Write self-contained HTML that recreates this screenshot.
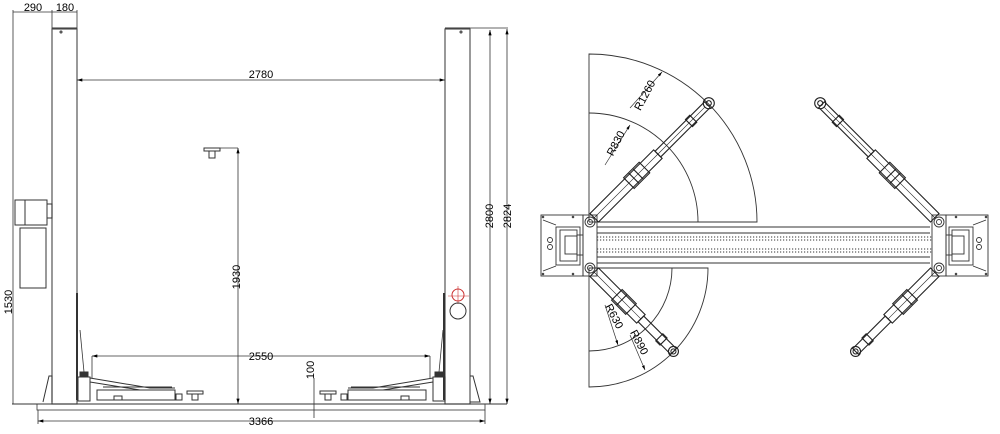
<!DOCTYPE html>
<html><head><meta charset="utf-8"><style>
html,body{margin:0;padding:0;background:#fff;}
svg{display:block;}
text{font-family:"Liberation Sans",sans-serif;font-size:11px;fill:#000;}
</style></head><body>
<svg width="1000" height="434" viewBox="0 0 1000 434" xmlns="http://www.w3.org/2000/svg">
<defs>
<marker id="ar" viewBox="0 0 10 6" refX="10" refY="3" markerWidth="7" markerHeight="4" orient="auto-start-reverse"><path d="M0,0 L10,3 L0,6z" fill="#000"/></marker>
</defs>
<g fill="none" stroke="#333" stroke-width="1">
<line x1="13" y1="12" x2="77" y2="12" stroke-width="0.8"/>
<line x1="13" y1="10" x2="13" y2="404" stroke-width="0.8"/>
<line x1="52" y1="10" x2="52" y2="30" stroke-width="0.8"/>
<line x1="77" y1="10" x2="77" y2="30" stroke-width="0.8"/>
<rect x="52" y="29" width="25" height="375" stroke-width="1.2" stroke="#555"/>
<line x1="52" y1="28" x2="77" y2="28"/>
<circle cx="61" cy="32" r="1"/>
<line x1="77" y1="293" x2="77" y2="400" stroke-width="2"/>
<path d="M43,402 L49,376 L52,376 L52,402"/>
<rect x="15" y="200" width="32" height="25"/>
<line x1="25" y1="200" x2="25" y2="225"/>
<rect x="47" y="204" width="5" height="14"/>
<rect x="20" y="228" width="26" height="60"/>
<rect x="445" y="29" width="25" height="375" stroke-width="1.2" stroke="#555"/>
<line x1="445" y1="28" x2="470" y2="28"/>
<circle cx="461" cy="32" r="1"/>
<line x1="444" y1="293" x2="444" y2="400" stroke-width="2"/>
<path d="M470,376 L473,376 L480,402 L470,402"/>
<circle cx="458" cy="295" r="6" stroke="#c33"/>
<line x1="448" y1="296" x2="469" y2="296" stroke="#c33" stroke-width="0.6"/>
<line x1="458" y1="286" x2="458" y2="304" stroke="#c33" stroke-width="0.6"/>
<circle cx="458" cy="311" r="8"/>
<line x1="12" y1="404" x2="507" y2="404"/>
<rect x="37" y="404" width="448" height="6" stroke-width="0.8"/>
<line x1="77" y1="80" x2="445" y2="80" stroke-width="0.8" marker-start="url(#ar)" marker-end="url(#ar)"/>
<line x1="470" y1="28" x2="508" y2="28" stroke-width="0.8"/>
<line x1="490" y1="30" x2="490" y2="404" stroke-width="0.8" marker-start="url(#ar)" marker-end="url(#ar)"/>
<line x1="507" y1="29" x2="507" y2="404" stroke-width="0.8" marker-start="url(#ar)" marker-end="url(#ar)"/>
<line x1="220" y1="148" x2="238" y2="148" stroke-width="0.8"/>
<line x1="238" y1="148" x2="238" y2="404" stroke-width="0.8" marker-start="url(#ar)" marker-end="url(#ar)"/>
<rect x="204" y="148" width="16" height="3"/>
<rect x="209" y="151" width="6" height="7"/>
<line x1="92" y1="356" x2="430" y2="356" stroke-width="0.8" marker-start="url(#ar)" marker-end="url(#ar)"/>
<line x1="92" y1="356" x2="92" y2="378" stroke-width="0.8"/>
<line x1="430" y1="356" x2="430" y2="378" stroke-width="0.8"/>
<line x1="38" y1="410" x2="38" y2="424" stroke-width="0.8"/>
<line x1="485" y1="410" x2="485" y2="424" stroke-width="0.8"/>
<line x1="38" y1="421" x2="485" y2="421" stroke-width="0.8" marker-start="url(#ar)" marker-end="url(#ar)"/>
<line x1="314" y1="378" x2="314" y2="418" stroke-width="0.8"/>
<g id="la">
<line x1="80" y1="330" x2="84" y2="372" stroke-width="0.8"/>
<rect x="78" y="377" width="12" height="24"/>
<rect x="80" y="372" width="8" height="5" fill="#333"/>
<path d="M90,378 L150,388 L175,388 M90,382 L140,390"/>
<rect x="97" y="390" width="78" height="10"/>
<line x1="103" y1="387" x2="172" y2="387"/>
<rect x="114" y="396" width="8" height="4"/>
<rect x="176" y="394" width="6" height="6"/>
<rect x="187" y="391" width="16" height="3"/>
<rect x="192" y="394" width="6" height="6"/>
</g>
<use href="#la" transform="translate(523,0) scale(-1,1)"/>
</g>
<g>
<text x="261" y="78" text-anchor="middle">2780</text>
<text x="33" y="11" text-anchor="middle">290</text>
<text x="65" y="11" text-anchor="middle">180</text>
<text x="261" y="360" text-anchor="middle">2550</text>
<text x="261" y="425" text-anchor="middle">3366</text>
<text transform="translate(12,302) rotate(-90)" text-anchor="middle">1530</text>
<text transform="translate(240,277) rotate(-90)" text-anchor="middle">1930</text>
<text transform="translate(314,370) rotate(-90)" text-anchor="middle">100</text>
<text transform="translate(493,216) rotate(-90)" text-anchor="middle">2800</text>
<text transform="translate(511,216) rotate(-90)" text-anchor="middle">2824</text>
</g>

<g fill="none" stroke="#333" stroke-width="0.9">
<path d="M589,222 L589,54 A168,168 0 0 1 757,222 L589,222"/>
<path d="M589,113 A109,109 0 0 1 698,222"/>
<path d="M589,268 L708,268 A119,119 0 0 1 589,387 Z"/>
<path d="M672,268 A83,83 0 0 1 589,351"/>
<g id="bp">
<rect x="541" y="215" width="42" height="61"/>
<rect x="556" y="227" width="24" height="38"/>
<rect x="560" y="230" width="17" height="31"/>
<rect x="565" y="236" width="12" height="18"/>
<rect x="577" y="235" width="6" height="20"/>
<circle cx="550" cy="240" r="2.5"/><circle cx="550" cy="247" r="2.5"/>
<line x1="543" y1="220" x2="556" y2="225"/><line x1="543" y1="271" x2="556" y2="266"/>
<circle cx="543" cy="217" r="0.8"/><circle cx="573" cy="217" r="0.8"/>
<circle cx="543" cy="274" r="0.8"/><circle cx="573" cy="274" r="0.8"/>
<rect x="583" y="215" width="14" height="61"/>
<circle cx="590" cy="222" r="5"/><circle cx="590" cy="222" r="2.5"/>
<circle cx="590" cy="268" r="5"/><circle cx="590" cy="268" r="2.5"/>
</g>
<use href="#bp" transform="translate(1529,0) scale(-1,1)"/>
<line x1="597" y1="227" x2="930" y2="227"/>
<line x1="597" y1="263" x2="930" y2="263"/>
<line x1="597" y1="233" x2="930" y2="233"/>
<line x1="597" y1="257" x2="930" y2="257"/>
<line x1="597" y1="237" x2="932" y2="237" stroke-dasharray="1.2,1.8"/>
<line x1="597" y1="240" x2="932" y2="240" stroke-dasharray="1.2,1.8"/>
<line x1="597" y1="249" x2="932" y2="249" stroke-dasharray="1.2,1.8"/>
<line x1="597" y1="252" x2="932" y2="252" stroke-dasharray="1.2,1.8"/>
<g stroke="#222" stroke-width="1.1">
<g transform="translate(590,222) rotate(-45)">
<rect x="6" y="-6" width="90" height="12"/><line x1="6" y1="0" x2="96" y2="0" stroke-width="0.6"/>
<rect x="96" y="-4" width="70" height="8"/><line x1="96" y1="0" x2="162" y2="0" stroke-width="0.6"/>
<rect x="55" y="-7.5" width="22" height="15"/><line x1="62" y1="-7" x2="62" y2="7"/><line x1="68" y1="-7" x2="68" y2="7"/>
<rect x="140" y="-5" width="6" height="10"/>
<circle cx="168" cy="0" r="5.5"/><circle cx="168" cy="0" r="2.5"/>
</g>
<g transform="translate(939,222) rotate(-135)">
<rect x="6" y="-6" width="90" height="12"/><line x1="6" y1="0" x2="96" y2="0" stroke-width="0.6"/>
<rect x="96" y="-4" width="70" height="8"/><line x1="96" y1="0" x2="162" y2="0" stroke-width="0.6"/>
<rect x="55" y="-7.5" width="22" height="15"/><line x1="62" y1="-7" x2="62" y2="7"/><line x1="68" y1="-7" x2="68" y2="7"/>
<rect x="140" y="-5" width="6" height="10"/>
<circle cx="168" cy="0" r="5.5"/><circle cx="168" cy="0" r="2.5"/>
</g>
<g transform="translate(590,268) rotate(45)">
<rect x="6" y="-6" width="66" height="12"/><line x1="6" y1="0" x2="72" y2="0" stroke-width="0.6"/>
<rect x="72" y="-4" width="46" height="8"/>
<rect x="38" y="-7.5" width="20" height="15"/><line x1="45" y1="-7" x2="45" y2="7"/>
<rect x="98" y="-5" width="6" height="10"/>
<circle cx="118" cy="0" r="5"/><circle cx="118" cy="0" r="2.5"/>
</g>
<g transform="translate(939,268) rotate(135)">
<rect x="6" y="-6" width="66" height="12"/><line x1="6" y1="0" x2="72" y2="0" stroke-width="0.6"/>
<rect x="72" y="-4" width="46" height="8"/>
<rect x="38" y="-7.5" width="20" height="15"/><line x1="45" y1="-7" x2="45" y2="7"/>
<rect x="98" y="-5" width="6" height="10"/>
<circle cx="118" cy="0" r="5"/><circle cx="118" cy="0" r="2.5"/>
</g>
</g>
<line x1="630" y1="108" x2="662" y2="72" stroke-width="0.7" marker-end="url(#ar)"/>
<line x1="605" y1="165" x2="630" y2="125" stroke-width="0.7" marker-end="url(#ar)"/>
<line x1="605" y1="305" x2="618" y2="345" stroke-width="0.7" marker-end="url(#ar)"/>
<line x1="630" y1="335" x2="645" y2="370" stroke-width="0.7" marker-end="url(#ar)"/>
</g>
<g>
<text transform="translate(648,97) rotate(-62)" text-anchor="middle">R1260</text>
<text transform="translate(619,145) rotate(-62)" text-anchor="middle">R830</text>
<text transform="translate(611,318) rotate(62)" text-anchor="middle">R630</text>
<text transform="translate(636,344) rotate(62)" text-anchor="middle">R890</text>
</g>
</svg>
</body></html>
